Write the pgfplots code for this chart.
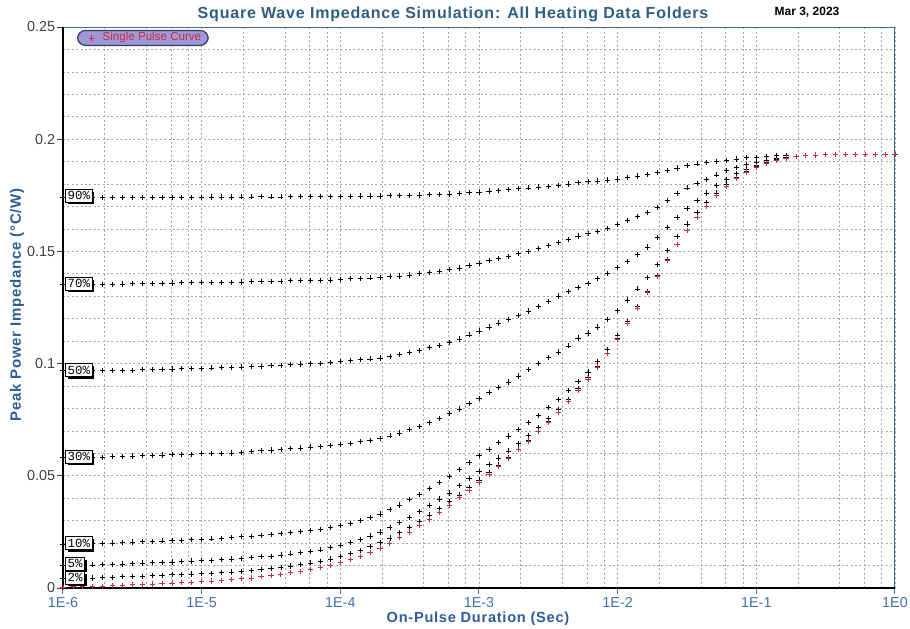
\documentclass[border=0pt]{standalone}
\usepackage{fontspec}
\setmainfont{Liberation Sans}
\newfontfamily\labmono{Liberation Mono}
\usepackage{pgfplots}
\pgfplotsset{compat=1.18}
\usepackage{pgfplotstable}
\usetikzlibrary{shadows}
\definecolor{titleblue}{HTML}{2E5E82}
\definecolor{labelblue}{HTML}{2F5C96}
\definecolor{tickblue}{HTML}{3F72AA}
\definecolor{frameblue}{HTML}{3A6F95}
\definecolor{lavender}{HTML}{9E98D8}
\definecolor{legborder}{HTML}{3A3A5E}
\definecolor{pulsered}{HTML}{D22A3C}
\definecolor{gridgray}{HTML}{A8A8A8}

\pgfplotstableread{
t s d2 d5 d10 d30 d50 d70 d90
1e-6 .0004 .0042 .0100 .0196 .0582 .0968 .1353 .1739
1.179e-6 .0005 .0043 .0101 .0197 .0582 .0968 .1354 .1739
1.389e-6 .0006 .0044 .0102 .0197 .0582 .0968 .1355 .1740
1.638e-6 .0007 .0045 .0103 .0199 .0583 .0968 .1354 .1740
1.931e-6 .0008 .0046 .0104 .0199 .0583 .0968 .1354 .1739
2.276e-6 .0010 .0048 .0105 .0201 .0585 .0969 .1354 .1739
2.683e-6 .0012 .0050 .0107 .0203 .0587 .0970 .1355 .1740
3.162e-6 .0014 .0052 .0109 .0205 .0588 .0971 .1356 .1740
3.728e-6 .0016 .0053 .0111 .0207 .0589 .0973 .1356 .1740
4.394e-6 .0018 .0055 .0113 .0208 .0591 .0974 .1357 .1740
5.179e-6 .0020 .0057 .0115 .0210 .0593 .0975 .1358 .1741
6.105e-6 .0022 .0059 .0116 .0211 .0594 .0976 .1359 .1741
7.197e-6 .0024 .0061 .0118 .0213 .0595 .0977 .1360 .1741
8.483e-6 .0026 .0062 .0120 .0215 .0596 .0978 .1360 .1741
1e-5 .0028 .0064 .0122 .0217 .0598 .0979 .1360 .1741
1.179e-5 .0031 .0066 .0124 .0219 .0600 .0981 .1361 .1742
1.389e-5 .0034 .0069 .0127 .0222 .0601 .0982 .1362 .1742
1.638e-5 .0037 .0071 .0129 .0224 .0602 .0983 .1363 .1742
1.931e-5 .0041 .0075 .0132 .0228 .0605 .0985 .1364 .1743
2.276e-5 .0045 .0078 .0135 .0231 .0609 .0986 .1365 .1743
2.683e-5 .0050 .0082 .0139 .0234 .0613 .0988 .1366 .1744
3.162e-5 .0055 .0087 .0142 .0238 .0615 .0990 .1366 .1743
3.728e-5 .0061 .0092 .0147 .0242 .0617 .0993 .1367 .1743
4.394e-5 .0068 .0098 .0152 .0246 .0621 .0996 .1369 .1744
5.179e-5 .0075 .0105 .0158 .0251 .0624 .0998 .1371 .1744
6.105e-5 .0083 .0112 .0164 .0257 .0628 .1000 .1372 .1745
7.197e-5 .0091 .0119 .0170 .0262 .0630 .1002 .1372 .1745
8.483e-5 .0101 .0129 .0179 .0269 .0634 .1005 .1373 .1745
1e-4 .0113 .0140 .0190 .0277 .0639 .1009 .1375 .1745
1.179e-4 .0127 .0153 .0202 .0288 .0645 .1014 .1379 .1746
1.389e-4 .0142 .0168 .0216 .0300 .0652 .1017 .1381 .1747
1.638e-4 .0159 .0184 .0232 .0314 .0659 .1021 .1382 .1747
1.931e-4 .0178 .0202 .0250 .0330 .0667 .1025 .1384 .1747
2.276e-4 .0200 .0223 .0269 .0349 .0678 .1032 .1387 .1748
2.683e-4 .0224 .0246 .0291 .0370 .0691 .1041 .1390 .1749
3.162e-4 .0250 .0271 .0315 .0393 .0705 .1050 .1395 .1750
3.728e-4 .0278 .0298 .0342 .0417 .0721 .1060 .1401 .1751
4.394e-4 .0307 .0325 .0369 .0443 .0738 .1071 .1406 .1753
5.179e-4 .0337 .0353 .0397 .0469 .0757 .1082 .1412 .1754
6.105e-4 .0369 .0384 .0423 .0497 .0777 .1095 .1418 .1756
7.197e-4 .0402 .0415 .0456 .0528 .0798 .1110 .1426 .1758
8.483e-4 .0436 .0447 .0487 .0559 .0822 .1128 .1436 .1761
1e-3 .0471 .0481 .0518 .0589 .0846 .1145 .1447 .1765
1.179e-3 .0506 .0514 .0549 .0617 .0870 .1163 .1458 .1769
1.389e-3 .0542 .0548 .0579 .0647 .0894 .1181 .1469 .1773
1.638e-3 .0578 .0583 .0611 .0677 .0918 .1198 .1479 .1776
1.931e-3 .0616 .0620 .0644 .0708 .0945 .1216 .1490 .1780
2.276e-3 .0655 .0658 .0680 .0738 .0974 .1234 .1501 .1783
2.683e-3 .0696 .0698 .0716 .0769 .1001 .1254 .1512 .1787
3.162e-3 .0739 .0741 .0756 .0803 .1026 .1277 .1525 .1791
3.728e-3 .0784 .0785 .0797 .0839 .1052 .1301 .1539 .1795
4.394e-3 .0831 .0832 .0841 .0879 .1079 .1321 .1554 .1800
5.179e-3 .0880 .0880 .0888 .0920 .1114 .1339 .1569 .1806
6.105e-3 .0931 .0931 .0937 .0963 .1136 .1358 .1580 .1811
7.197e-3 .0985 .0985 .0989 .1010 .1163 .1378 .1590 .1814
8.483e-3 .1045 .1045 .1045 .1064 .1196 .1403 .1603 .1818
1e-2 .1110 .1110 .1112 .1125 .1237 .1428 .1620 .1823
1.179e-2 .1178 .1178 .1179 .1189 .1283 .1454 .1638 .1829
1.389e-2 .1247 .1247 .1247 .1255 .1333 .1485 .1655 .1836
1.638e-2 .1317 .1317 .1317 .1322 .1385 .1520 .1673 .1843
1.931e-2 .1389 .1389 .1389 .1392 .1443 .1563 .1697 .1851
2.276e-2 .1461 .1461 .1461 .1463 .1504 .1608 .1727 .1860
2.683e-2 .1530 .1530 .1530 .1531 .1565 .1652 .1757 .1872
3.162e-2 .1593 .1593 .1593 .1594 .1622 .1692 .1783 .1882
3.728e-2 .1650 .1650 .1650 .1650 .1673 .1728 .1804 .1890
4.394e-2 .1702 .1702 .1702 .1702 .1718 .1760 .1822 .1895
5.179e-2 .1750 .1750 .1750 .1750 .1760 .1793 .1841 .1901
6.105e-2 .1791 .1791 .1791 .1791 .1797 .1822 .1859 .1906
7.197e-2 .1826 .1826 .1826 .1826 .1829 .1847 .1875 .1912
8.483e-2 .1854 .1854 .1854 .1854 .1856 .1867 .1889 .1917
1e-1 .1876 .1876 .1876 .1876 .1877 .1884 .1899 .1920
1.179e-1 .1893 .1893 .1893 .1893 .1893 .1897 .1907 .1923
1.389e-1 .1906 .1906 .1906 .1906 .1906 .1908 .1914 .1926
1.638e-1 .1916 .1916 .1916 .1916 .1916 .1917 .1921 .1928
1.931e-1 .1923 nan nan nan nan nan nan nan
2.276e-1 .1927 nan nan nan nan nan nan nan
2.683e-1 .1930 nan nan nan nan nan nan nan
3.162e-1 .1931 nan nan nan nan nan nan nan
3.728e-1 .1932 nan nan nan nan nan nan nan
4.394e-1 .1932 nan nan nan nan nan nan nan
5.179e-1 .1932 nan nan nan nan nan nan nan
6.105e-1 .1932 nan nan nan nan nan nan nan
7.197e-1 .1932 nan nan nan nan nan nan nan
8.483e-1 .1932 nan nan nan nan nan nan nan
1 .1932 nan nan nan nan nan nan nan
}\zdata

\tikzset{
  labbox/.style={draw=black, fill=white, line width=0.45pt, anchor=west,
    inner xsep=1.1pt, inner ysep=0.8pt, text height=4.3pt, text depth=0.4pt,
    font=\labmono\fontsize{6.2}{7}\selectfont, xshift=1pt,
    drop shadow={shadow xshift=1.1pt, shadow yshift=-1.1pt, fill=black, opacity=1}},
  duty/.style={only marks, mark=+, mark size=1.3pt, black, mark options={line width=0.35pt}}
}

\begin{document}
\begin{tikzpicture}
\begin{axis}[
  at={(0,0)}, anchor=south west,
  scale only axis, width=416pt, height=280.5pt,
  xmode=log, xmin=1e-6, xmax=1, ymin=0, ymax=0.25,
  xtick={1e-6,1e-5,1e-4,1e-3,1e-2,1e-1,1},
  xticklabels={1E-6,1E-5,1E-4,1E-3,1E-2,1E-1,1E0},
  minor xtick={2e-6,4e-6,6e-6,8e-6,2e-5,4e-5,6e-5,8e-5,2e-4,4e-4,6e-4,8e-4,2e-3,4e-3,6e-3,8e-3,2e-2,4e-2,6e-2,8e-2,0.2,0.4,0.6,0.8},
  ytick={0,0.05,0.1,0.15,0.2,0.25},
  yticklabels={0,0.05,0.1,0.15,0.2,0.25},
  minor y tick num=4,
  grid=both,
  major grid style={gridgray, dash pattern=on 1pt off 1.2pt, line width=0.35pt},
  minor grid style={gridgray, dash pattern=on 1pt off 1.2pt, line width=0.35pt},
  axis line style={draw=none},
  tick align=outside, tick pos=left,
  major tick length=3pt, minor tick length=0pt,
  xtick style={tickblue, line width=0.5pt},
  ytick style={black!75, line width=0.5pt},
  xticklabel style={font=\fontsize{7.2}{8}\selectfont, text=tickblue, yshift=1.8pt},
  yticklabel style={font=\fontsize{7.2}{8}\selectfont, text=black!75, xshift=2.6pt},
  clip=false,
  legend cell align=left,
  legend image code/.code={\path[draw=none,fill=none] (0pt,-1.5pt) (9pt,1.5pt); \draw[mark repeat=2,mark phase=2,#1] plot coordinates {(0pt,0pt) (4.5pt,0pt) (9pt,0pt)};},
  legend style={at={(0.0168,0.995)}, anchor=north west, draw=legborder, line width=0.6pt,
    fill=lavender, rounded corners=4pt, font=\fontsize{5.8}{7}\selectfont, text=pulsered,
    inner xsep=2.5pt, inner ysep=0.3pt, nodes={inner ysep=0.6pt, inner xsep=1pt}},
]
\addplot[duty, forget plot] table[x=t,y=d90]{\zdata};
\addplot[duty, forget plot] table[x=t,y=d70]{\zdata};
\addplot[duty, forget plot] table[x=t,y=d50]{\zdata};
\addplot[duty, forget plot] table[x=t,y=d30]{\zdata};
\addplot[duty, forget plot] table[x=t,y=d10]{\zdata};
\addplot[duty, forget plot] table[x=t,y=d5]{\zdata};
\addplot[duty, forget plot] table[x=t,y=d2]{\zdata};
\addplot[only marks, mark=+, mark size=1.3pt, pulsered, mark options={line width=0.4pt}] table[x=t,y=s]{\zdata};
\addlegendentry{Single Pulse Curve}

\draw[frameblue, line width=0.5pt] (rel axis cs:0,1) -- (rel axis cs:1,1) -- (rel axis cs:1,0);
\draw[black, line width=0.75pt] (rel axis cs:0,1) -- (rel axis cs:0,0) -- (rel axis cs:1,0);

\coordinate (c90) at (axis cs:1e-6,0.1747);
\coordinate (c70) at (axis cs:1e-6,0.1355);
\coordinate (c50) at (axis cs:1e-6,0.0971);
\coordinate (c30) at (axis cs:1e-6,0.0584);
\coordinate (c10) at (axis cs:1e-6,0.0200);
\coordinate (c5) at (axis cs:1e-6,0.0107);
\coordinate (c2) at (axis cs:1e-6,0.0045);
\end{axis}

\node[labbox] at (c90) {90\%};
\node[labbox] at (c70) {70\%};
\node[labbox] at (c50) {50\%};
\node[labbox] at (c30) {30\%};
\node[labbox] at (c10) {10\%};
\node[labbox] at (c5) {5\%};
\node[labbox] at (c2) {2\%};

\node[text=titleblue, font=\fontsize{8}{9}\selectfont\bfseries\addfontfeature{LetterSpace=5}] at (195pt,287pt) {Square Wave Impedance Simulation: All Heating Data Folders};
\node[text=black, font=\fontsize{6}{7}\selectfont\bfseries] at (372pt,288pt) {Mar 3, 2023};
\node[text=labelblue, rotate=90, font=\fontsize{7.5}{8}\selectfont\bfseries\addfontfeature{LetterSpace=5}] at (-23pt,141.5pt) {Peak Power Impedance (°C/W)};
\node[text=labelblue, font=\fontsize{7.3}{8}\selectfont\bfseries\addfontfeature{LetterSpace=5}] at (207.5pt,-15.5pt) {On-Pulse Duration (Sec)};

\pgfresetboundingbox
\path[use as bounding box] (-31.5pt,-20pt) rectangle (423.5pt,294pt);
\end{tikzpicture}
\end{document}
